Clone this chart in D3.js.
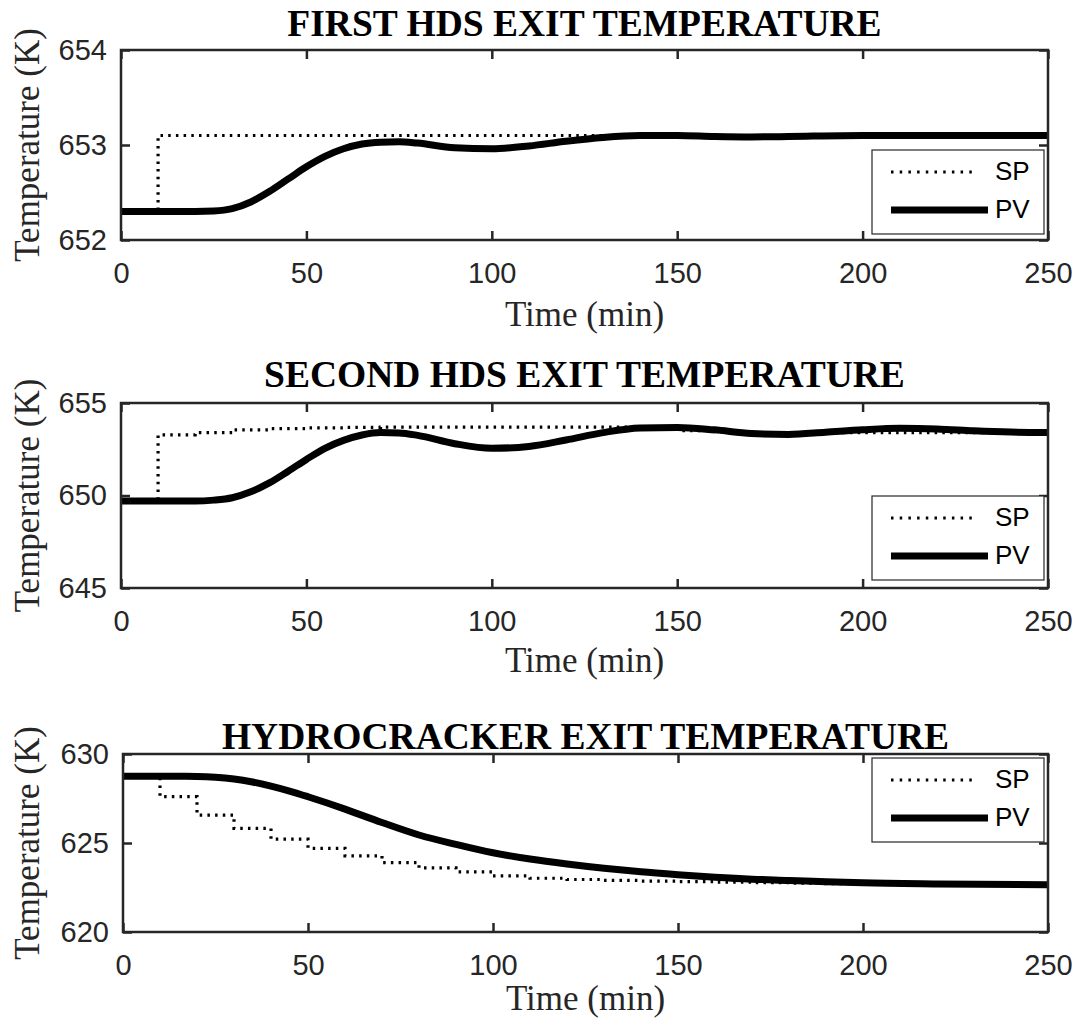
<!DOCTYPE html>
<html>
<head>
<meta charset="utf-8">
<script src="https://cdn.jsdelivr.net/npm/d3@7"></script>
<style>
  html, body { margin: 0; padding: 0; background: #fff; }
  svg { display: block; }
</style>
</head>
<body>
<svg id="chart" width="1078" height="1025"></svg>
<script>
// ---- shared axis values ----
const timeTicks = [0, 50, 100, 150, 200, 250];

// ---- first HDS reactor ----
const hds1Title = "FIRST HDS EXIT TEMPERATURE";
const hds1TempTicks = [652, 653, 654];
const hds1SpTime = [0, 10, 250];
const hds1Sp = [652.3, 653.1, 653.1];
const hds1PvTime = [0, 10, 20, 25, 30, 35, 40, 45, 50, 55, 60, 65, 70, 75, 80, 90, 100, 110, 120, 130, 140, 150, 160, 170, 180, 200, 220, 250];
const hds1Pv = [652.3, 652.3, 652.3, 652.305, 652.33, 652.4, 652.51, 652.64, 652.77, 652.88, 652.96, 653.01, 653.03, 653.035, 653.02, 652.97, 652.96, 652.99, 653.04, 653.08, 653.1, 653.1, 653.09, 653.085, 653.09, 653.1, 653.1, 653.1];

// ---- second HDS reactor ----
const hds2Title = "SECOND HDS EXIT TEMPERATURE";
const hds2TempTicks = [645, 650, 655];
const hds2SpTime = [0, 10, 20, 30, 40, 50, 60, 70, 130, 140, 150, 160, 170, 250];
const hds2Sp = [649.7, 653.28, 653.4, 653.55, 653.62, 653.66, 653.68, 653.7, 653.7, 653.6, 653.5, 653.45, 653.4, 653.4];
const hds2PvTime = [0, 10, 20, 25, 30, 35, 40, 45, 50, 55, 60, 65, 70, 75, 80, 90, 100, 110, 120, 130, 140, 150, 160, 170, 180, 190, 200, 210, 220, 230, 240, 250];
const hds2Pv = [649.7, 649.7, 649.7, 649.75, 649.88, 650.2, 650.68, 651.3, 651.95, 652.55, 652.98, 653.27, 653.4, 653.38, 653.25, 652.8, 652.55, 652.65, 653.0, 653.4, 653.65, 653.68, 653.55, 653.35, 653.3, 653.42, 653.55, 653.63, 653.6, 653.5, 653.43, 653.4];

// ---- hydrocracker ----
const hcTitle = "HYDROCRACKER EXIT TEMPERATURE";
const hcTempTicks = [620, 625, 630];
const hcSpTime = [0, 10, 20, 30, 40, 50, 60, 70, 80, 90, 100, 110, 120, 130, 140, 150, 160, 170, 180, 190, 200, 210, 220, 250];
const hcSp = [628.75, 627.6, 626.57, 625.82, 625.22, 624.7, 624.28, 623.9, 623.6, 623.38, 623.15, 623.02, 622.95, 622.9, 622.86, 622.83, 622.8, 622.77, 622.74, 622.71, 622.69, 622.67, 622.66, 622.66];
const hcPvTime = [0, 10, 20, 25, 30, 35, 40, 45, 50, 55, 60, 70, 80, 90, 100, 110, 120, 130, 140, 150, 160, 170, 180, 190, 200, 220, 250];
const hcPv = [628.75, 628.75, 628.74, 628.7, 628.6, 628.43, 628.2, 627.92, 627.6, 627.26, 626.9, 626.15, 625.45, 624.92, 624.45, 624.1, 623.82, 623.58, 623.38, 623.22, 623.08, 622.97, 622.9, 622.82, 622.76, 622.7, 622.65];

const legendNames = ["SP", "PV"];

// ---- panel layout ----
const panels = [
  { title: hds1Title, yTicks: hds1TempTicks, sp: [hds1SpTime, hds1Sp], pv: [hds1PvTime, hds1Pv],
    left: 121, right: 1048, top: 50, bottom: 240, titleGap: 14, xLabelGap: 86, legendTop: 150 },
  { title: hds2Title, yTicks: hds2TempTicks, sp: [hds2SpTime, hds2Sp], pv: [hds2PvTime, hds2Pv],
    left: 121, right: 1048, top: 403, bottom: 588, titleGap: 16, xLabelGap: 84, legendTop: 496 },
  { title: hcTitle, yTicks: hcTempTicks, sp: [hcSpTime, hcSp], pv: [hcPvTime, hcPv],
    left: 123, right: 1048, top: 754, bottom: 932, titleGap: 5, xLabelGap: 78, legendTop: 758 }
];

const frameColor = "#262626";
const tickFont = "'Liberation Sans', Arial, Helvetica, sans-serif";
const serifFont = "'Liberation Serif', 'Times New Roman', serif";
const svg = d3.select("#chart");

const pairs = (ts, vs) => ts.map((t, i) => [t, vs[i]]);

panels.forEach((p, idx) => {
  const x = d3.scaleLinear().domain([0, 250]).range([p.left, p.right]);
  const y = d3.scaleLinear().domain(d3.extent(p.yTicks)).range([p.bottom, p.top]);
  const g = svg.append("g");

  const clipId = "clip" + idx;
  svg.append("clipPath").attr("id", clipId)
    .append("rect").attr("x", p.left).attr("y", p.top)
    .attr("width", p.right - p.left).attr("height", p.bottom - p.top);

  // data lines
  const plot = g.append("g").attr("clip-path", `url(#${clipId})`);
  const spLine = d3.line().x(d => x(d[0])).y(d => y(d[1])).curve(d3.curveStepAfter);
  const pvLine = d3.line().x(d => x(d[0])).y(d => y(d[1])).curve(d3.curveMonotoneX);

  plot.append("path").datum(pairs(p.sp[0], p.sp[1]))
    .attr("d", spLine).attr("fill", "none").attr("stroke", "#000")
    .attr("stroke-width", 3.2).attr("stroke-dasharray", "2.5,5.2");
  plot.append("path").datum(pairs(p.pv[0], p.pv[1]))
    .attr("d", pvLine).attr("fill", "none").attr("stroke", "#000")
    .attr("stroke-width", 7).attr("stroke-linejoin", "round");

  // axes with inward ticks on all four sides
  const styleAxis = sel => {
    sel.select(".domain").remove();
    sel.selectAll(".tick line").attr("stroke", frameColor).attr("stroke-width", 2.5);
    sel.selectAll(".tick text").attr("fill", frameColor)
      .attr("font-family", tickFont).attr("font-size", 29);
  };
  g.append("g").attr("transform", `translate(0,${p.bottom})`)
    .call(d3.axisBottom(x).tickValues(timeTicks).tickSize(-9).tickPadding(22).tickFormat(d3.format("d")))
    .call(styleAxis);
  g.append("g").attr("transform", `translate(0,${p.top})`)
    .call(d3.axisTop(x).tickValues(timeTicks).tickSize(-9).tickFormat(""))
    .call(styleAxis);
  g.append("g").attr("transform", `translate(${p.left},0)`)
    .call(d3.axisLeft(y).tickValues(p.yTicks).tickSize(-9).tickPadding(14).tickFormat(d3.format("d")))
    .call(styleAxis);
  g.append("g").attr("transform", `translate(${p.right},0)`)
    .call(d3.axisRight(y).tickValues(p.yTicks).tickSize(-9).tickFormat(""))
    .call(styleAxis);

  // frame
  g.append("rect").attr("x", p.left).attr("y", p.top)
    .attr("width", p.right - p.left).attr("height", p.bottom - p.top)
    .attr("fill", "none").attr("stroke", frameColor).attr("stroke-width", 2.5);

  // title
  g.append("text").attr("x", (p.left + p.right) / 2).attr("y", p.top - p.titleGap)
    .attr("text-anchor", "middle").attr("font-family", serifFont)
    .attr("font-weight", "bold").attr("font-size", 37.5).attr("fill", "#000")
    .text(p.title);

  // axis labels
  g.append("text").attr("x", (p.left + p.right) / 2).attr("y", p.bottom + p.xLabelGap)
    .attr("text-anchor", "middle").attr("font-family", serifFont)
    .attr("font-size", 35).attr("fill", frameColor).text("Time (min)");
  g.append("text")
    .attr("transform", `translate(39,${(p.top + p.bottom) / 2}) rotate(-90)`)
    .attr("text-anchor", "middle").attr("font-family", serifFont)
    .attr("font-size", 35).attr("fill", frameColor).text("Temperature (K)");

  // legend
  const lw = 172, lh = 84;
  const lg = g.append("g").attr("transform", `translate(${p.right - lw - 4},${p.legendTop})`);
  lg.append("rect").attr("width", lw).attr("height", lh)
    .attr("fill", "#fff").attr("stroke", frameColor).attr("stroke-width", 1.2);
  const rows = [
    { name: legendNames[0], y: 22, dash: "2.5,6.2", w: 3.2, x2: 106 },
    { name: legendNames[1], y: 60, dash: null, w: 7, x2: 116 }
  ];
  rows.forEach(r => {
    lg.append("line").attr("x1", 19).attr("x2", r.x2).attr("y1", r.y).attr("y2", r.y)
      .attr("stroke", "#000").attr("stroke-width", r.w)
      .attr("stroke-dasharray", r.dash);
    lg.append("text").attr("x", 123).attr("y", r.y + 8)
      .attr("font-family", tickFont).attr("font-size", 26).attr("fill", "#000")
      .text(r.name);
  });
});
</script>
</body>
</html>
